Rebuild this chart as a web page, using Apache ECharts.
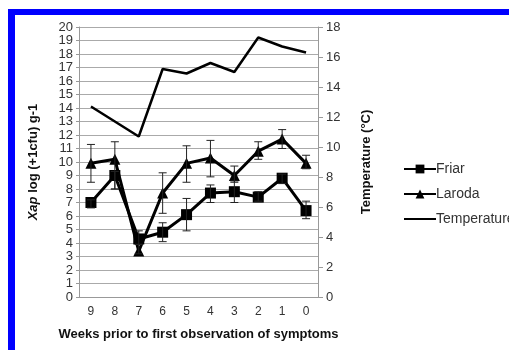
<!DOCTYPE html>
<html>
<head>
<meta charset="utf-8">
<script src="https://cdn.jsdelivr.net/npm/echarts@6/dist/echarts.min.js"></script>
<style>
  html, body { margin: 0; padding: 0; background: #fff; }
  #chart { width: 509px; height: 350px; }
</style>
</head>
<body>
<div id="chart"></div>
<script>
// weeks before first symptoms
const weeks = ['9', '8', '7', '6', '5', '4', '3', '2', '1', '0'];

const friar = [7.0, 9.0, 4.3, 4.8, 6.1, 7.7, 7.8, 7.4, 8.8, 6.4];
const friarLow = [6.6, 8.0, 3.9, 4.1, 4.9, 7.0, 7.0, 7.1, 8.4, 5.8];
const friarHigh = [7.2, 9.3, 4.9, 5.5, 7.3, 8.3, 8.6, 7.8, 9.1, 7.1];

const laroda = [9.9, 10.2, 3.4, 7.7, 9.9, 10.3, 9.0, 10.8, 11.7, 9.9];
const larodaLow = [8.5, 8.0, 3.2, 6.2, 8.5, 8.9, 8.5, 10.2, 11.0, 9.5];
const larodaHigh = [11.3, 11.5, 3.9, 9.2, 11.2, 11.6, 9.7, 11.5, 12.4, 10.5];

// right axis, °C
const temperature = [12.7, 11.7, 10.7, 15.2, 14.9, 15.6, 15.0, 17.3, 16.7, 16.3];

const chart = echarts.init(document.getElementById('chart'));

function errData(low, high) {
  return low.map((l, i) => [i, l, high[i]]);
}

function renderErr(params, api) {
  const i = api.value(0);
  const lo = api.coord([i, api.value(1)]);
  const hi = api.coord([i, api.value(2)]);
  const cap = 4;
  const style = { stroke: '#222', lineWidth: 1 };
  return {
    type: 'group',
    children: [
      { type: 'line', shape: { x1: lo[0], y1: lo[1], x2: hi[0], y2: hi[1] }, style },
      { type: 'line', shape: { x1: lo[0] - cap, y1: lo[1], x2: lo[0] + cap, y2: lo[1] }, style },
      { type: 'line', shape: { x1: hi[0] - cap, y1: hi[1], x2: hi[0] + cap, y2: hi[1] }, style }
    ]
  };
}

const labelFont = 'Liberation Sans Narrow, Liberation Sans, Arial, sans-serif';

chart.setOption({
  animation: false,
  backgroundColor: '#fff',
  graphic: [
    { type: 'rect', shape: { x: 8, y: 9, width: 501, height: 6 }, style: { fill: '#0000ff' } },
    { type: 'rect', shape: { x: 8, y: 9, width: 7, height: 341 }, style: { fill: '#0000ff' } }
  ],
  grid: { left: 79, right: 191, top: 27, bottom: 53 },
  legend: {
    orient: 'vertical',
    left: 398,
    top: 157,
    itemGap: 11,
    itemWidth: 32,
    itemHeight: 11,
    textStyle: { color: '#333', fontSize: 14, fontFamily: 'Liberation Sans, Arial, sans-serif', padding: [0, 0, 0, -5] },
    data: ['Friar', 'Laroda', { name: 'Temperature', itemStyle: { opacity: 0 } }]
  },
  xAxis: {
    type: 'category',
    data: weeks,
    boundaryGap: true,
    name: 'Weeks prior to first observation of symptoms',
    nameLocation: 'middle',
    nameGap: 31,
    nameTextStyle: { color: '#111', fontWeight: 'bold', fontSize: 13, fontFamily: 'Liberation Sans, Arial, sans-serif' },
    axisLine: { lineStyle: { color: '#999' } },
    axisTick: { inside: true, length: 4, lineStyle: { color: '#999' } },
    axisLabel: { color: '#333', fontSize: 12, margin: 9, fontFamily: labelFont }
  },
  yAxis: [
    {
      type: 'value',
      min: 0,
      max: 20,
      interval: 1,
      name: '{i|Xap} log (+1cfu) g-1',
      nameLocation: 'middle',
      nameRotate: 90,
      nameGap: 39,
      nameTextStyle: {
        color: '#111', fontWeight: 'bold', fontSize: 13, fontFamily: 'Liberation Sans, Arial, sans-serif',
        rich: { i: { fontStyle: 'italic', fontWeight: 'bold', fontSize: 13, color: '#111' } }
      },
      axisLine: { show: true, lineStyle: { color: '#999' } },
      axisTick: { show: true, length: 3, lineStyle: { color: '#999' } },
      axisLabel: { color: '#333', fontSize: 13, margin: 6, fontFamily: labelFont, lineHeight: 12 },
      splitLine: { lineStyle: { color: '#aaa', width: 1 } }
    },
    {
      type: 'value',
      min: 0,
      max: 18,
      interval: 2,
      name: 'Temperature (°C)',
      nameLocation: 'middle',
      nameRotate: 90,
      nameGap: 42,
      nameTextStyle: { color: '#111', fontWeight: 'bold', fontSize: 13, fontFamily: 'Liberation Sans, Arial, sans-serif' },
      axisLine: { show: true, lineStyle: { color: '#999' } },
      axisTick: { show: true, length: 5, lineStyle: { color: '#999' } },
      axisLabel: { color: '#333', fontSize: 13, margin: 8, fontFamily: labelFont },
      splitLine: { show: false }
    }
  ],
  series: [
    {
      name: 'Temperature',
      type: 'line',
      yAxisIndex: 1,
      data: temperature,
      symbol: 'none',
      lineStyle: { color: '#000', width: 2.5 },
      itemStyle: { color: '#000' },
      z: 3
    },
    {
      name: 'Laroda',
      type: 'line',
      data: laroda,
      symbol: 'triangle',
      symbolSize: 11,
      lineStyle: { color: '#000', width: 3 },
      itemStyle: { color: '#000' },
      z: 4
    },
    {
      name: 'Friar',
      type: 'line',
      data: friar,
      symbol: 'rect',
      symbolSize: 11,
      lineStyle: { color: '#000', width: 3 },
      itemStyle: { color: '#000' },
      z: 5
    },
    {
      type: 'custom',
      data: errData(larodaLow, larodaHigh),
      renderItem: renderErr,
      encode: { x: 0, y: [1, 2] },
      z: 6
    },
    {
      type: 'custom',
      data: errData(friarLow, friarHigh),
      renderItem: renderErr,
      encode: { x: 0, y: [1, 2] },
      z: 6
    }
  ]
});
</script>
</body>
</html>
